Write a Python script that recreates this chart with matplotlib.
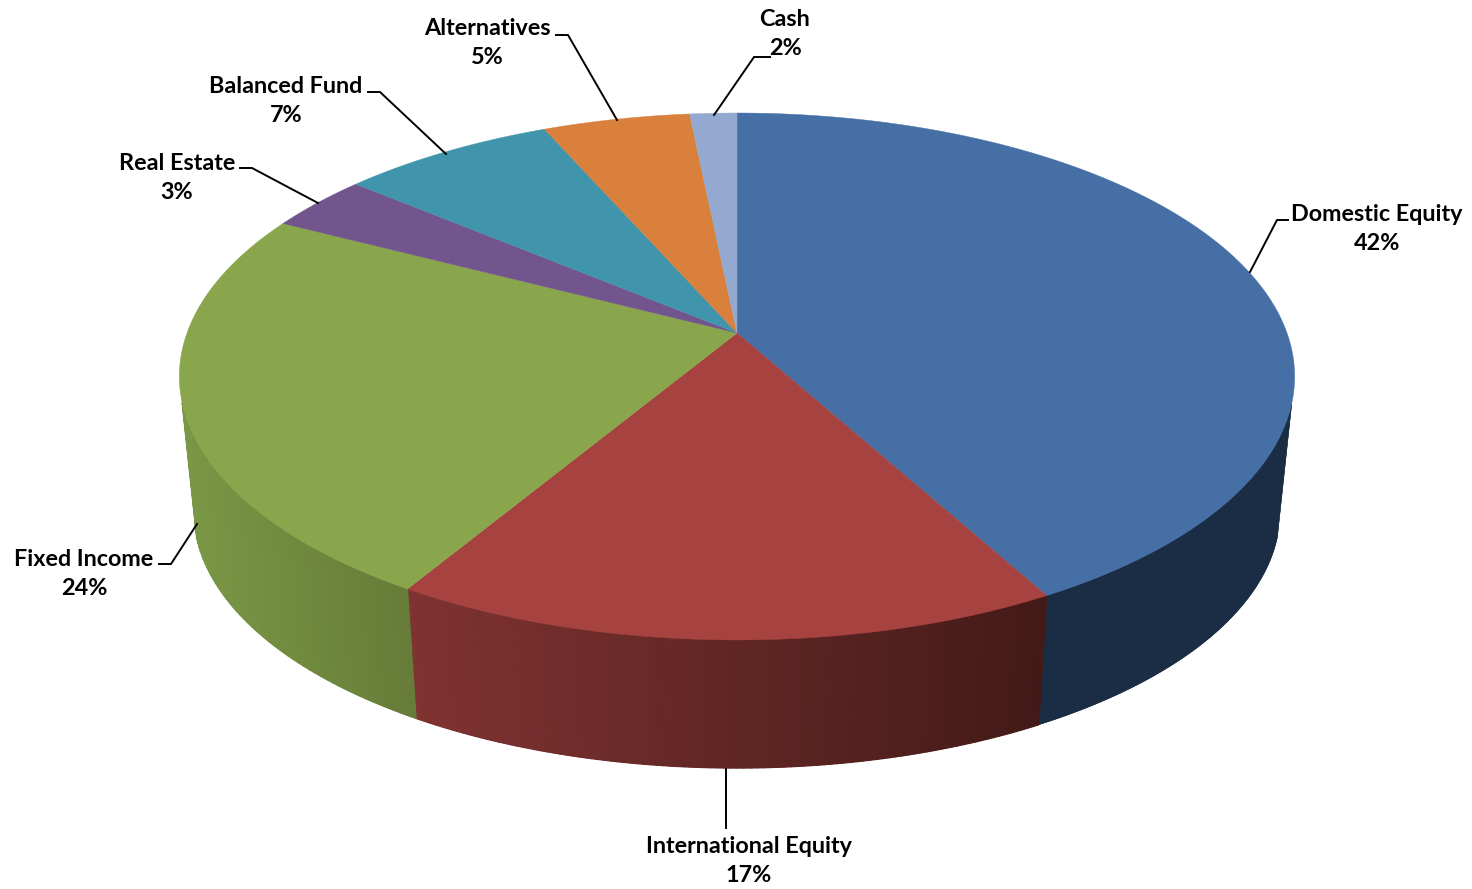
import numpy as np
import matplotlib
matplotlib.use('Agg')
import matplotlib.pyplot as plt
from matplotlib.collections import PolyCollection

#slices clockwise from 12 o'clock
categories = ['Domestic Equity', 'International Equity', 'Fixed Income', 'Real Estate',
              'Balanced Fund', 'Alternatives', 'Cash']
shares = [42.0, 16.6, 24.0, 3.5, 7.3, 5.0, 1.6]
percent_labels = ['42%', '17%', '24%', '3%', '7%', '5%', '2%']
top_colors = ['#4670A5', '#A64340', '#8AA64C', '#73558E', '#4095AD', '#D8803C', '#93A9CF']
# wall shade at left and right screen end of each slice
wall_left = ['#1B2D45', '#7F3332', '#7A9746', '#5A426F', '#2F7285', '#A8622C', '#72839F']
wall_right = ['#1B2D45', '#431A17', '#667C38', '#5A426F', '#2F7285', '#A8622C', '#72839F']

label_xy = [(1377, 229), (749, 861), (84, 574), (177, 178), (286, 101), (487, 43), (785, 34)]
leaders = [[(1250, 272), (1277, 220), (1288, 220)],
           [(726, 769), (726, 828)],
           [(197, 524), (171, 564), (159, 564)],
           [(318, 203), (252, 168), (240, 168)],
           [(446, 154), (380, 92), (368, 92)],
           [(617, 120), (568, 35), (556, 35)],
           [(714, 115), (754, 57), (770, 57)]]

# perspective of the disc
cx, cy = 737.0, 333.0
a, b, k = 550.0, 256.3, 0.165
shrink, depth = 0.974, 136.0
wall_cut = -0.26


def top_pt(t):
    w = 1 + k * np.cos(t)
    return cx + a * np.sin(t) / w, cy - b * np.cos(t) / w


def bottom_pt(t):
    x, y = top_pt(t)
    return cx + shrink * (x - cx), cy + shrink * (y - cy) + depth


fig = plt.figure(figsize=(14.72, 8.89), dpi=100)
ax = fig.add_axes([0, 0, 1, 1])
ax.set_xlim(0, 1472)
ax.set_ylim(889, 0)
ax.axis('off')

edges = np.cumsum([0] + shares) / sum(shares) * 2 * np.pi

# side wall: one solid piece per slice, thin quads on top for the shade change
quads = []
quad_colors = []
for i in range(len(shares)):
    ts = np.linspace(edges[i], edges[i + 1], 300)
    ts = ts[np.cos(ts) < wall_cut]
    if len(ts) < 2:
        continue
    c1 = np.array(matplotlib.colors.to_rgb(wall_left[i]))
    c2 = np.array(matplotlib.colors.to_rgb(wall_right[i]))
    tx, ty = top_pt(ts)
    bx, by = bottom_pt(ts)
    ax.fill(np.r_[tx, bx[::-1]], np.r_[ty, by[::-1]], color=(c1 + c2) / 2, lw=0.3, zorder=1)
    if wall_left[i] == wall_right[i]:
        ax.fill(np.r_[tx, bx[::-1]], np.r_[ty, by[::-1]], color=c1, lw=0.3, zorder=2)
        continue
    ts = np.r_[ts[::3], ts[-1]]
    x_lo, x_hi = tx.min(), tx.max()
    for t0, t1 in zip(ts[:-1], ts[1:]):
        quads.append([top_pt(t0), top_pt(t1), bottom_pt(t1), bottom_pt(t0)])
        f = (top_pt((t0 + t1) / 2)[0] - x_lo) / (x_hi - x_lo)
        quad_colors.append(c1 + (c2 - c1) * f)
ax.add_collection(PolyCollection(quads, facecolors=quad_colors, edgecolors=quad_colors,
                                 linewidths=1.0, zorder=2))

# top face
for i in range(len(shares)):
    ts = np.linspace(edges[i], edges[i + 1], 200)
    x, y = top_pt(ts)
    ax.fill(np.r_[cx, x], np.r_[cy, y], color=top_colors[i], lw=0.3, zorder=3)

# labels + leader lines
for i in range(len(categories)):
    pts = np.array(leaders[i])
    ax.plot(pts[:, 0], pts[:, 1], color='black', lw=1.4, zorder=4, solid_joinstyle='miter')
    ax.text(label_xy[i][0], label_xy[i][1], categories[i] + '\n' + percent_labels[i],
            ha='center', va='center', family='Lato', weight='bold', fontsize=16.8,
            linespacing=1.45, color='black', zorder=5)

fig.savefig('out.png', dpi=100)
